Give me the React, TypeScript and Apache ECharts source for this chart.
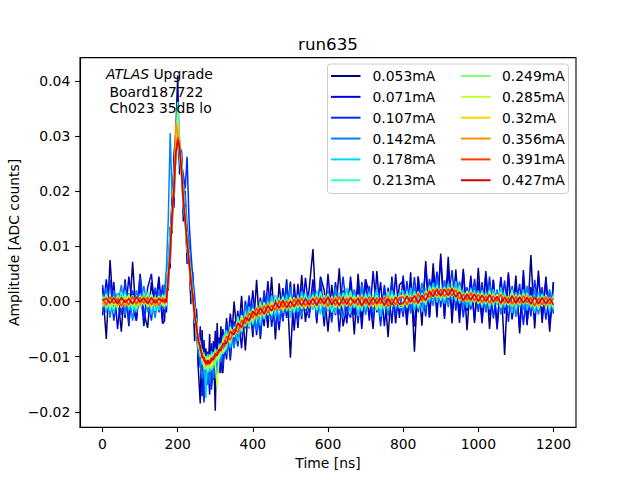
import React, { useEffect, useRef } from "react";
import * as echarts from "echarts";

// Sample times [ns]
const TIME_NS = [
  0, 10, 20, 30, 40, 50, 60, 70, 80, 90, 100, 110, 120, 130, 140, 150, 160,
  165, 170, 175, 180, 185, 190, 195, 200, 205, 210, 215, 220, 225, 230, 235, 240,
  245, 250, 255, 260, 265, 270, 275, 280, 285, 290, 295, 300, 305, 310, 315, 320,
  330, 340, 350, 360, 370, 380, 390, 400, 410, 420, 430, 440, 450, 460, 470, 480, 490, 500, 510, 520, 530, 540, 550,
  560, 570, 580, 590, 600, 610, 620, 630, 640, 650, 660, 670, 680, 690, 700, 710, 720, 730, 740, 750, 760, 770, 780, 790,
  800, 810, 820, 830, 840, 850, 860, 870, 880, 890, 900, 910, 920, 930, 940, 950, 960, 970, 980, 990, 1000,
  1010, 1020, 1030, 1040, 1050, 1060, 1070, 1080, 1090, 1100, 1110, 1120, 1130, 1140, 1150, 1160, 1170, 1180, 1190, 1200,
];

const CURRENTS = [
  "0.053mA", "0.071mA", "0.107mA", "0.142mA", "0.178mA", "0.213mA",
  "0.249mA", "0.285mA", "0.32mA", "0.356mA", "0.391mA", "0.427mA",
];

const COLORS = [
  "#000080", "#0000DD", "#002CFF", "#0080FF", "#00D4FF", "#36FFC1",
  "#7DFF7A", "#C1FF36", "#FFD200", "#FF8F00", "#FF3C00", "#D90000",
];

const A_0053 = [
  .0025,-.0068,.0075,-.003,.0015,-.0055,.004,-.0045,.0072,-.0035,.005,-.002,-.0048,.0035,-.0015,.0045,-.004,
  -.0035,.0035,.002,.0135,.0123,.0265,.0305,.041,.023,.027,.0145,.02,.0078,.0112,-.0005,.0038,-.0072,-.0013,-.0124,-.0185,-.0052,-.0165,-.0085,-.0151,-.0059,-.0151,-.0072,-.0198,-.0039,-.0125,-.0045,-.013,
  -.003,-.0107,0,-.0077,.001,-.0089,.0006,-.0065,.0039,-.0068,.0015,-.0048,.0044,-.0069,.0033,-.0036,.004,-.0102,.0032,-.0048,.0048,-.0037,.0023,
  .0095,-.004,.0045,.002,-.0055,.003,-.0025,.006,-.0045,-.001,.0035,-.006,.005,-.003,.004,.0015,-.005,.0055,-.0035,.0025,-.0065,.0045,-.004,.003,
  .0037,-.0043,.0053,-.0091,.0045,-.0044,.0073,-.0029,.0069,-.0029,.0087,-.0032,.0081,-.004,.0058,-.0024,.0059,-.0052,.0047,-.0039,.0061,
  -.0035,.005,-.005,.0039,-.0046,.0044,-.0097,.0053,-.0032,.0047,-.0058,.0042,-.0043,.0084,-.0049,.0056,-.0039,.0045,-.0055,.0035,
];
const A_0071 = [
  -.0025,.004,-.0015,.0035,-.005,.002,-.003,.0045,-.001,-.0035,.003,-.0045,.0025,.005,-.002,.0035,-.004,
  .003,-.002,.006,.006,.0188,.017,.029,.03,.025,.0275,.016,.018,.0068,.0092,.0005,.0053,-.0052,-.0023,-.0119,-.0045,-.0172,-.007,-.0155,-.0091,-.0169,-.0076,-.0142,-.0053,-.0129,-.0065,-.013,-.005,
  -.0105,-.0022,-.008,-.0017,-.0085,.0001,-.0049,.002,-.0061,.0007,-.0045,.0037,-.0046,.0011,-.0052,.0024,-.003,.0036,-.0053,.0032,-.0032,.0043,-.0022,
  .004,-.0035,.0025,-.0045,.005,-.003,.0035,-.0055,.002,-.004,.0045,-.0025,.003,-.005,.004,-.0035,.0055,-.002,.0035,-.0045,.0025,-.004,.005,-.003,
  .0047,-.0033,.0033,-.0046,.0045,-.0019,.0063,-.0029,.0049,-.0014,.0077,-.0027,.0057,-.002,.0043,-.0039,.0054,-.0017,.0042,-.0034,.0036,
  -.004,.0055,-.0025,.0039,-.0051,.0044,-.0022,.0048,-.0032,.0032,-.0048,.0057,-.0038,.0026,-.0034,.0046,-.0029,.004,-.0045,.0035,
];
const A_0107 = [
  .003,-.002,.004,-.0035,.0015,-.0025,.0035,-.004,.002,-.0015,.0045,-.003,.001,-.0035,.0025,-.002,.003,
  -.0022,.003,.0078,.012,.0185,.024,.0262,.0295,.029,.025,.023,.0205,.0262,.015,.009,.0045,.001,-.004,-.008,-.012,-.0105,-.0183,-.0125,-.015,-.0118,-.016,-.0108,-.014,-.0092,-.013,-.0075,-.0118,
  -.004,-.0102,-.0035,-.0082,-.0015,-.0049,.0011,-.0055,-.0011,-.0063,.002,-.0033,.0014,-.0049,.0008,-.0036,.0033,-.0029,.0017,-.0038,.0028,-.0012,-.003,
  .0025,-.003,.004,-.002,.0015,-.0038,.003,-.0025,.0045,-.0015,-.003,.002,-.004,.0035,-.001,.0028,-.0035,.0022,-.0045,.003,-.0018,.0038,-.0026,.0012,
  -.0028,.0037,-.0017,.0044,-.002,.0021,-.0027,.0041,.0004,.0054,-.0011,.0038,.0002,.0057,-.0017,.0036,-.0029,.0026,-.0015,.0041,-.0019,
  .0035,-.002,.0045,-.0031,.0019,-.0016,.0038,-.0037,.0028,-.0008,.0032,-.0043,.0022,-.0027,.0039,-.0014,.0026,-.0033,.0018,-.0022,
];
const A_0142 = [
  -.0015,.0025,-.003,.002,-.001,.003,-.0025,.0015,-.0035,.002,-.0005,.0028,-.002,.001,-.003,.0022,-.0012,
  .0018,.006,.015,.0305,.019,.024,.0275,.0302,.0272,.0262,.0215,.019,.014,.011,.0055,.0038,-.0018,-.005,-.0095,-.0105,-.014,-.012,-.0155,-.0118,-.015,-.0112,-.014,-.01,-.0128,-.0085,-.011,-.0072,
  -.0095,-.0042,-.0085,-.0032,-.006,-.0006,-.0039,-.0003,-.0053,-.0006,-.0033,.0012,-.0033,-.0001,-.0035,.0012,-.002,.0026,-.0023,.0007,-.0027,.0014,-.0014,
  .0018,-.0022,.0012,-.0028,.002,-.0015,.0025,-.0008,-.003,.0014,-.002,.0022,-.0012,.003,-.0025,.001,-.0018,.0024,-.0014,.0006,-.0026,.002,-.001,.0016,
  -.0018,.0017,-.0022,.0026,-.0007,.0034,-.001,.0021,-.0008,.0041,.0009,.0038,-.0011,.003,.0003,.0035,-.0011,.002,-.0009,.0028,-.0008,
  .002,-.0015,.003,-.0008,.0022,-.0024,.0013,-.0012,.0025,-.0028,.0014,-.0016,.0028,-.0009,.0021,-.0024,.0015,-.0008,.0022,-.0016,
];
const A_0178 = [
  .0012,-.0018,.0008,-.0022,.0015,-.001,.002,-.0015,.0005,-.002,.0014,-.0008,.0018,-.0024,.001,-.0016,.0006,
  -.0014,.0022,.0075,.013,.0136,.0228,.0249,.03,.0298,.0258,.0166,.0171,.0088,.0095,.002,.0028,-.004,-.003,-.0088,-.0071,-.0115,-.0092,-.0175,-.0095,-.0128,-.009,-.0121,-.0084,-.0111,-.0076,-.0102,-.0066,
  -.0052,-.0084,-.0045,-.0072,-.0025,-.0046,-.0009,-.0043,-.0013,-.0044,-.0001,-.0023,.0011,-.0029,.0005,-.0021,.0013,-.0028,.0007,-.0019,.0018,-.0014,.0012,
  -.0015,.002,-.0024,.0012,-.0018,.0008,-.0022,.0016,-.001,.0025,-.002,.0014,-.0026,.001,-.0014,.0018,-.0008,.0022,-.0028,.0012,-.0016,.002,-.0012,.0015,
  .002,-.0012,.0025,-.0016,.0015,-.0019,.0023,-.0001,.0034,-.0002,.0025,-.0004,.0033,.0005,.0037,-.0004,.0021,-.0012,.0025,-.0002,.002,
  -.0011,.0017,-.0015,.0022,-.0006,.0026,-.0011,.0011,-.0021,.0017,-.001,.0022,-.0016,.0011,-.0021,.0017,-.0007,.0012,-.002,.0014,
];
const A_0213 = [
  -.001,.0014,-.0016,.0009,-.0012,.0018,-.0006,.0012,-.0015,.0007,-.0011,.0016,-.0009,.0013,-.0017,.0008,-.0005,
  .0012,-.0009,.0056,.008,.0168,.0194,.0282,.0362,.0262,.0221,.0205,.013,.0124,.0058,.0055,-.0006,-.0008,-.0063,-.0058,-.01,-.0086,-.0123,-.0098,-.0129,-.0096,-.0125,-.0092,-.0116,-.0088,-.0104,-.0076,-.0095,
  -.0084,-.0046,-.0065,-.0027,-.0055,-.0022,-.0047,-.0017,-.0033,0,-.0031,-.0003,-.0025,.0011,-.0015,.0009,-.0017,.0002,-.0021,.0011,-.0012,.0014,-.0008,
  .0012,-.0016,.0018,-.001,.0014,-.002,.0008,-.0014,.0016,-.0006,.002,-.0012,.001,-.0018,.0015,-.0008,.0012,-.0016,.0006,-.0014,.0018,-.001,.0014,-.0012,
  -.001,.0018,-.0005,.0018,-.0013,.0016,-.0006,.0029,.0008,.0028,.0001,.0026,.0007,.0029,.0001,.0029,.0001,.0018,-.0007,.0018,0,
  .0019,-.0005,.0021,-.0008,.0012,-.0012,.0015,-.0003,.0021,-.0012,.0012,-.0006,.0016,-.0011,.0007,-.0015,.0013,-.001,.0008,-.0014,
];
const A_0249 = [
  .0009,-.0012,.0006,-.0014,.0011,-.0007,.0013,-.001,.0004,-.0013,.001,-.0006,.0014,-.0011,.0007,-.0009,.0012,
  -.001,.0014,.0032,.0101,.0139,.0222,.0255,.0352,.0268,.0252,.0172,.016,.0095,.0086,.0027,.0021,-.0034,-.0035,-.0082,-.0076,-.011,-.0095,-.0124,-.0099,-.0121,-.0095,-.0115,-.0088,-.0106,-.008,-.0097,-.007,
  -.0058,-.0076,-.0047,-.0059,-.0025,-.0044,-.0023,-.0039,-.001,-.0026,-.0002,-.0025,-.0002,-.0015,.0007,-.0016,.0002,-.0017,.0007,-.0011,.001,-.0013,.0003,
  -.001,.0013,-.0007,.0011,-.0014,.0009,-.0012,.0006,-.0011,.0014,-.0008,.001,-.0013,.0007,-.0009,.0012,-.0006,.0011,-.0014,.0008,-.001,.0013,-.0007,.0009,
  .0012,-.001,.001,-.0005,.0018,-.0002,.0019,.0005,.0026,.0006,.0025,.0005,.0026,.0008,.0025,0,.0015,-.0001,.002,-.0002,.0016,
  -.0006,.0013,-.0007,.0014,-.0003,.0017,-.0006,.0009,-.0009,.0013,-.0006,.0014,-.0004,.001,-.0012,.0008,-.0009,.0012,-.0008,.001,
];
const A_0285 = [
  -.0008,.0011,-.001,.0006,-.0012,.0009,-.0005,.0012,-.0009,.0007,-.0011,.0004,-.001,.0013,-.0006,.001,-.0008,
  .0009,-.0006,.005,.0084,.0162,.0198,.0276,.0285,.0295,.0226,.0198,.0136,.0117,.0064,.0049,-.0002,-.0012,-.0058,-.0062,-.0095,-.009,-.0118,-.0101,-.0124,-.01,-.0122,-.0096,-.0112,-.0156,-.0099,-.008,-.0092,
  -.008,-.005,-.0063,-.0036,-.0052,-.0027,-.0039,-.0013,-.0027,-.0008,-.0026,-.0005,-.0023,-.0003,-.0016,.0005,-.0012,.0008,-.0013,.0005,-.0013,.0004,-.001,
  .0009,-.0011,.0006,-.001,.0012,-.0007,.001,-.0012,.0005,-.0009,.0011,-.0006,.0012,-.001,.0007,-.0011,.0008,-.0012,.0006,-.0009,.001,-.0007,.0011,-.0008,
  -.0007,.0013,-.0004,.0014,-.0007,.0012,-.0002,.0023,.0006,.0025,.0006,.0025,.0007,.0027,.0007,.0021,0,.0019,0,.0014,-.0004,
  .0015,-.0003,.0016,-.0003,.0013,-.0008,.0009,-.0007,.0015,-.0006,.0012,-.0004,.0013,-.0008,.0008,-.001,.0009,-.001,.0006,-.0009,
];
const A_0320 = [
  .0007,-.0009,.001,-.0006,.0008,-.0011,.0005,-.0008,.0011,-.0007,.0009,-.0004,.0006,-.001,.0008,-.0005,.0009,
  -.0007,.001,.0035,.0098,.0141,.0218,.0258,.032,.0272,.0248,.0178,.0155,.0099,.0081,.0031,.0017,-.003,-.0039,-.0078,-.0079,-.0106,-.0098,-.0119,-.0103,-.0116,-.0099,-.011,-.0091,-.0101,-.0084,-.0092,-.0074,
  -.0061,-.0073,-.0048,-.0056,-.003,-.004,-.0018,-.0033,-.0016,-.0028,-.0007,-.002,0,-.0014,.0002,-.0016,.0001,-.0012,.0007,-.0009,.0006,-.0011,.0002,
  -.0008,.001,-.0006,.0009,-.0011,.0005,-.0009,.0011,-.0007,.0008,-.001,.0006,-.0009,.0011,-.0005,.0008,-.001,.0007,-.0006,.0009,-.0011,.0005,-.0008,.001,
  .001,-.0008,.0009,-.0005,.0016,-.0001,.0017,.0006,.0024,.0008,.0024,.0007,.0025,.0009,.0023,.0002,.0014,0,.0018,-.0001,.0015,
  -.0004,.0012,-.0005,.0012,-.0002,.0015,-.0005,.0008,-.0007,.0011,-.0005,.0012,-.0003,.0009,-.001,.0007,-.0008,.001,-.0007,.0008,
];
const A_0356 = [
  -.0006,.0008,-.0005,.0009,-.0008,.0006,-.001,.0007,-.0004,.0008,-.0007,.001,-.0006,.0005,-.0009,.0007,-.0003,
  .0006,.0002,.0047,.0088,.0158,.0215,.0323,.0305,.0288,.0242,.0179,.0152,.0101,.0079,.0033,.0015,-.0028,-.0042,-.0076,-.008,-.0103,-.01,-.0117,-.0106,-.0114,-.0101,-.0108,-.0093,-.0099,-.0086,-.0091,-.0076,
  -.0078,-.0052,-.0061,-.0038,-.005,-.0027,-.0038,-.002,-.0029,-.0008,-.0021,-.0004,-.0018,-.0001,-.0017,-.0001,-.0014,.0003,-.0009,.0007,-.001,.0004,-.0011,
  .0007,-.0009,.0005,-.0008,.001,-.0006,.0008,-.001,.0006,-.0007,.0009,-.0005,.0008,-.0009,.0006,-.001,.0007,-.0008,.0005,-.0009,.001,-.0006,.0008,-.0007,
  -.0005,.0011,-.0002,.0012,-.0005,.0012,0,.0021,.0008,.0024,.0008,.0023,.001,.0025,.0007,.0019,-.0001,.0014,-.0001,.0015,.0001,
  .0013,-.0001,.0014,-.0003,.0009,-.0006,.001,-.0002,.0011,-.0007,.0008,-.0005,.0012,-.0005,.0009,-.0008,.0006,-.0008,.0007,-.0006,
];
const A_0391 = [
  .0005,-.0007,.0008,-.0004,.0006,-.0008,.0003,-.0006,.0009,-.0005,.0007,-.0003,.0008,-.0006,.0004,-.0007,.0006,
  -.0004,.0008,.0038,.0095,.0146,.021,.0262,.0298,.0284,.0231,.019,.0141,.0112,.0069,.0044,.0004,-.0019,-.0052,-.0066,-.0089,-.0094,-.0109,-.0107,-.0115,-.0106,-.011,-.0099,-.0101,-.0091,-.0093,-.0082,-.0083,
  -.0063,-.007,-.005,-.0056,-.0034,-.0041,-.0021,-.003,-.0012,-.0024,-.0008,-.0021,-.0007,-.0016,.0002,-.0011,.0001,-.0012,.0004,-.0007,.0006,-.0008,.0003,
  -.0006,.0008,-.0004,.0007,-.0009,.0005,-.0007,.0009,-.0005,.0006,-.0008,.0004,-.0007,.0008,-.0005,.0009,-.0006,.0007,-.0004,.0008,-.0009,.0005,-.0006,.0007,
  .0008,-.0006,.0008,-.0003,.0014,.0001,.0015,.0007,.0022,.001,.0022,.0009,.0023,.001,.0021,.0004,.0013,.0002,.0016,.0001,.0013,
  -.0002,.001,-.0003,.001,0,.0013,-.0003,.0007,-.0005,.0009,-.0003,.001,-.0002,.0007,-.0008,.0006,-.0006,.0008,-.0005,.0006,
];
const A_0427 = [
  .0002,.0005,-.0003,.0006,-.0004,.0007,-.0002,.0005,-.0005,.0008,-.0001,.0006,-.0004,.0007,-.0003,.0005,0,
  .0003,-.0002,.0044,.0086,.0153,.0201,.027,.0293,.0276,.024,.0181,.0149,.0104,.0076,.0036,.0012,-.0026,-.0044,-.0073,-.0081,-.0101,-.0102,-.0114,-.0107,-.0113,-.0103,-.0106,-.0095,-.0098,-.0087,-.0089,-.0077,
  -.0076,-.0055,-.006,-.0039,-.0047,-.0029,-.0035,-.0018,-.0025,-.0012,-.0023,-.0008,-.0017,-.0002,-.0012,.0002,-.0011,0,-.001,.0003,-.0007,.0005,-.0006,
  .0005,-.0007,.0006,-.0004,.0008,-.0006,.0004,-.0007,.0006,-.0005,.0007,-.0003,.0006,-.0008,.0005,-.0006,.0007,-.0004,.0006,-.0007,.0005,-.0006,.0008,-.0005,
  -.0003,.0009,-.0001,.001,-.0003,.0011,.0002,.0018,.0009,.0022,.001,.0022,.0011,.0023,.0008,.0017,.0002,.0013,.0003,.0013,0,
  .0011,0,.0012,0,.0009,-.0003,.0007,-.0003,.001,-.0003,.0008,-.0002,.0007,-.0005,.0008,-.0004,.0007,-.0004,.0005,-.0006,
];

const SERIES_VALUES = [
  A_0053, A_0071, A_0107, A_0142, A_0178, A_0213,
  A_0249, A_0285, A_0320, A_0356, A_0391, A_0427,
];

const X_TICKS = [0, 200, 400, 600, 800, 1000, 1200];
const Y_TICKS = [-0.02, -0.01, 0, 0.01, 0.02, 0.03, 0.04];

const FONT = "DejaVu Sans";
const FS = 13.9;

export default function App() {
  const ref = useRef<HTMLDivElement>(null);

  useEffect(() => {
    document.body.style.margin = "0";
    const el = ref.current;
    if (!el) return;
    const chart = echarts.init(el, null, { renderer: "svg", width: 640, height: 480 });

    const series = SERIES_VALUES.map((vals, k) => ({
      name: CURRENTS[k],
      type: "line",
      data: TIME_NS.map((t, i) => [t, vals[i]]),
      showSymbol: false,
      symbol: "none",
      silent: true,
      lineStyle: { width: 1.5, color: COLORS[k] },
      itemStyle: { color: COLORS[k] },
      emphasis: { disabled: true },
      animation: false,
    }));

    const graphics: any[] = [];
    // title
    graphics.push({
      type: "text",
      x: 328,
      y: 43.5,
      z: 100,
      style: {
        text: "run635",
        font: `16.7px "${FONT}"`,
        fill: "#000",
        align: "center",
        verticalAlign: "middle",
        textAlign: "center",
        textVerticalAlign: "middle",
      },
    });
    // y-axis title, placed like matplotlib's ylabel
    graphics.push({
      type: "text",
      x: 13.7,
      y: 242.4,
      rotation: Math.PI / 2,
      z: 100,
      style: {
        text: "Amplitude [ADC counts]",
        font: `${FS}px "${FONT}"`,
        fill: "#000",
        align: "center",
        verticalAlign: "middle",
        textAlign: "center",
        textVerticalAlign: "middle",
      },
    });
    // annotation
    const annLines = [
      { x: 106, y: 74, text: "{it|ATLAS}{n| Upgrade}" },
      { x: 109.5, y: 92, text: "{n|Board187722}" },
      { x: 109.5, y: 108, text: "{n|Ch023 35dB lo}" },
    ];
    annLines.forEach((l) => {
      graphics.push({
        type: "text",
        x: l.x,
        y: l.y,
        z: 100,
        style: {
          text: l.text,
          font: `${FS}px "${FONT}"`,
          fill: "#000",
          align: "left",
          verticalAlign: "middle",
          textAlign: "left",
          textVerticalAlign: "middle",
          rich: {
            it: { font: `italic ${FS}px "${FONT}"`, fontStyle: "italic", fontSize: FS, fontFamily: FONT, fill: "#000" },
            n: { font: `${FS}px "${FONT}"`, fontSize: FS, fontFamily: FONT, fill: "#000" },
          },
        },
      });
    });
    // legend frame
    graphics.push({
      type: "rect",
      z: 100,
      shape: { x: 327.5, y: 64, width: 241, height: 129.5, r: 3 },
      style: { fill: "rgba(255,255,255,0.8)", stroke: "#cccccc", lineWidth: 1 },
    });
    CURRENTS.forEach((name, k) => {
      const col = k < 6 ? 0 : 1;
      const row = k % 6;
      const cy = 76 + row * 20.85;
      const lx = col === 0 ? 331 : 461;
      const tx = col === 0 ? 372.5 : 502;
      graphics.push({
        type: "line",
        z: 101,
        shape: { x1: lx, y1: cy, x2: lx + 29.5, y2: cy },
        style: { stroke: COLORS[k], lineWidth: 2 },
      });
      graphics.push({
        type: "text",
        x: tx,
        y: cy,
        z: 101,
        style: {
          text: name,
          font: `${FS}px "${FONT}"`,
          fill: "#000",
          align: "left",
          verticalAlign: "middle",
          textAlign: "left",
          textVerticalAlign: "middle",
        },
      });
    });

    const axisCommon = {
      axisLine: { show: true, onZero: false, lineStyle: { color: "#000", width: 1.1 } },
      splitLine: { show: false },
      nameTextStyle: { fontSize: FS, color: "#000", fontFamily: FONT },
    };

    chart.setOption({
      animation: false,
      textStyle: { fontFamily: FONT },
      grid: {
        left: 80,
        right: 64,
        top: 57.6,
        bottom: 52.8,
        show: true,
        borderColor: "#000",
        borderWidth: 1.1,
        backgroundColor: "transparent",
        containLabel: false,
        outerBoundsMode: "none",
      },
      xAxis: {
        type: "value",
        min: -60,
        max: 1260,
        name: "Time [ns]",
        nameLocation: "middle",
        nameGap: 28.5,
        ...axisCommon,
        axisTick: {
          show: true,
          inside: false,
          length: 4.9,
          lineStyle: { color: "#000", width: 1.1 },
          customValues: X_TICKS,
        },
        axisLabel: {
          customValues: X_TICKS,
          margin: 9.7,
          fontSize: FS,
          color: "#000",
          fontFamily: FONT,
          formatter: (v: number) => String(v),
        },
      },
      yAxis: {
        type: "value",
        min: -0.0228,
        max: 0.0442,
        ...axisCommon,
        axisTick: {
          show: true,
          inside: false,
          length: 4.9,
          lineStyle: { color: "#000", width: 1.1 },
          customValues: Y_TICKS,
        },
        axisLabel: {
          customValues: Y_TICKS,
          margin: 9.7,
          fontSize: FS,
          color: "#000",
          fontFamily: FONT,
          formatter: (v: number) => (v < -1e-9 ? "\u2212" : "") + Math.abs(v).toFixed(2),
        },
      },
      series,
      graphic: { elements: graphics },
    } as any);

    return () => {
      chart.dispose();
    };
  }, []);

  return (
    <div
      ref={ref}
      style={{ position: "fixed", left: 0, top: 0, width: 640, height: 480, background: "#fff" }}
    />
  );
}
